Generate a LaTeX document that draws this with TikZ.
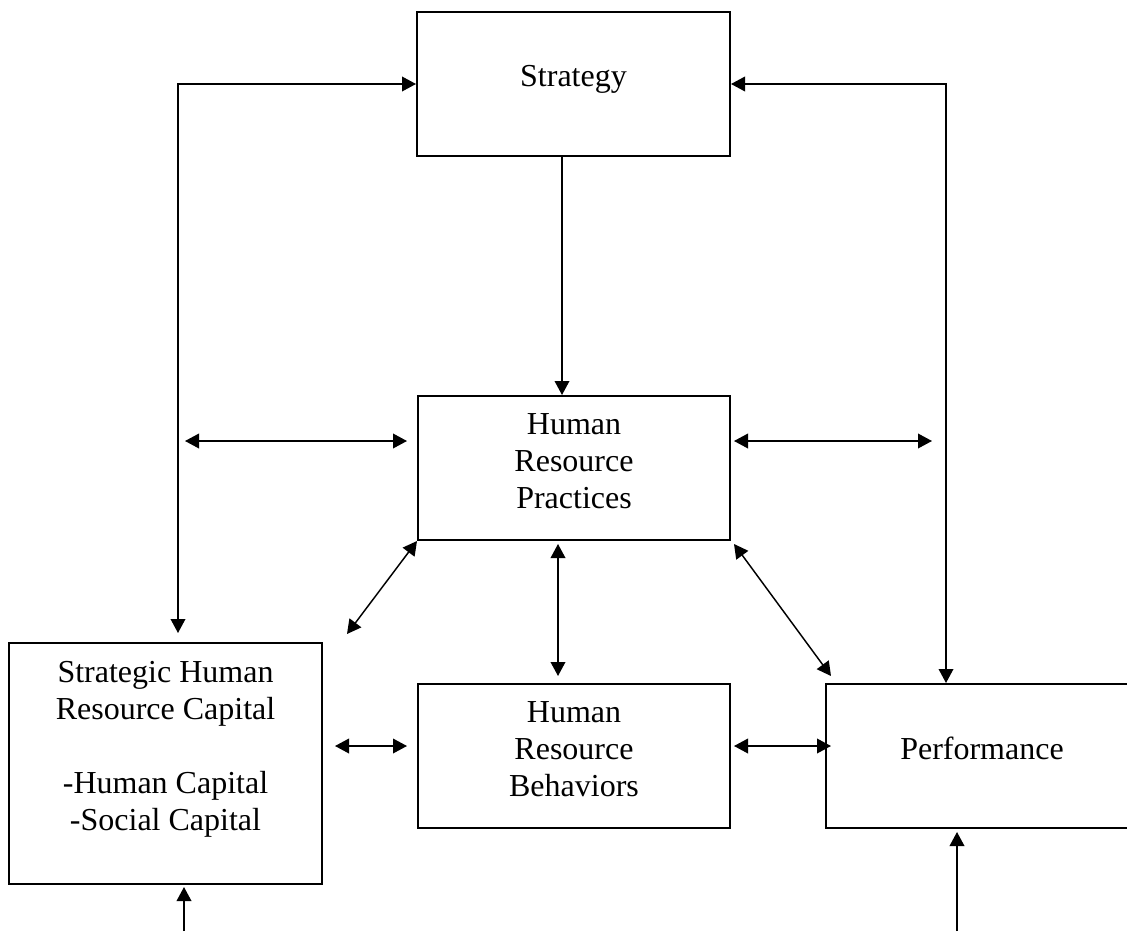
\documentclass[tikz,border=0pt]{standalone}
\usepackage{fontspec}
\setmainfont{Liberation Serif}
\usetikzlibrary{arrows.meta,calc}
\tikzset{
  box/.style={draw, line width=1.5pt, inner sep=0pt, minimum width=234pt, minimum height=108pt},
  lbl/.style={anchor=base, inner sep=0pt, font=\fontsize{24pt}{27.75pt}\selectfont},
  arr/.style={line width=1.1pt, -{Triangle[length=10.5pt,width=11pt]}},
  darr/.style={line width=1.1pt, {Triangle[length=10.5pt,width=11pt]}-{Triangle[length=10.5pt,width=11pt]}}
}
\begin{document}
\begin{tikzpicture}[x=0.75pt,y=-0.75pt]
\useasboundingbox (0,0) rectangle (1127,931);
\clip (0,0) rectangle (1127,931);
% boxes
\node[box, minimum width=234.75pt] (strategy) at (573.5,84) {};
\node[box] (hrp) at (574,468) {};
\node[box] (hrb) at (574,756) {};
\node[box, minimum width=234.75pt, minimum height=180.75pt] (shrc) at (165.5,763.5) {};
\node[box] (perf) at (982,756) {};
% labels
\node[lbl] (strategy-t) at ($(strategy.north)+(0,76)$) {Strategy};
\node[lbl] (hrp-t) at ($(hrp.north)+(0,39)$) {\begin{tabular}[t]{@{}c@{}}Human\\ Resource\\ Practices\end{tabular}};
\node[lbl] (hrb-t) at ($(hrb.north)+(0,39)$) {\begin{tabular}[t]{@{}c@{}}Human\\ Resource\\ Behaviors\end{tabular}};
\node[lbl] (shrc-t) at ($(shrc.north)+(0,40)$) {\begin{tabular}[t]{@{}c@{}}Strategic Human\\ Resource Capital\\ \\ -Human Capital\\ -Social Capital\end{tabular}};
\node[lbl] (perf-t) at ($(perf.north)+(0,76)$) {Performance};
% helper coordinates
\coordinate (lx) at (178,0);
\coordinate (rx) at (946,0);
\coordinate (mx) at (562,0);
\coordinate (vx) at (558,0);
\coordinate (h1) at (0,441);
\coordinate (r2) at (0,746);
\coordinate (d1) at ($(shrc.north east)+(24,-8)$);
\coordinate (b1) at (184,931);
\coordinate (b2) at (957,931);
% connectors
\draw[darr, shorten >=6.75pt] (strategy.west) -| (lx |- shrc.north);
\draw[darr] (strategy.east) -| (rx |- perf.north);
\draw[arr] (mx |- strategy.south) -- (mx |- hrp.north);
\draw[darr, shorten <=5.25pt, shorten >=7.5pt] (lx |- h1) -- (hrp.west |- h1);
\draw[darr, shorten <=2.25pt, shorten >=10.5pt] (hrp.east |- h1) -- (rx |- h1);
\draw[darr] (hrp.south west) -- (d1);
\draw[darr, shorten <=2.25pt, shorten >=5.25pt] (vx |- hrp.south) -- (vx |- hrb.north);
\draw[darr] ([shift={(3,3)}]hrp.south east) -- ([shift={(6,-7)}]perf.north west);
\draw[darr, shorten <=9pt, shorten >=7.5pt] (shrc.east |- r2) -- (hrb.west |- r2);
\draw[darr, shorten <=2.25pt, shorten >=-4.5pt] (hrb.east |- r2) -- (perf.west |- r2);
\draw[arr, shorten >=1.5pt] (b1) -- (b1 |- shrc.south);
\draw[arr, shorten >=2.25pt] (b2) -- (b2 |- perf.south);
\end{tikzpicture}
\end{document}
